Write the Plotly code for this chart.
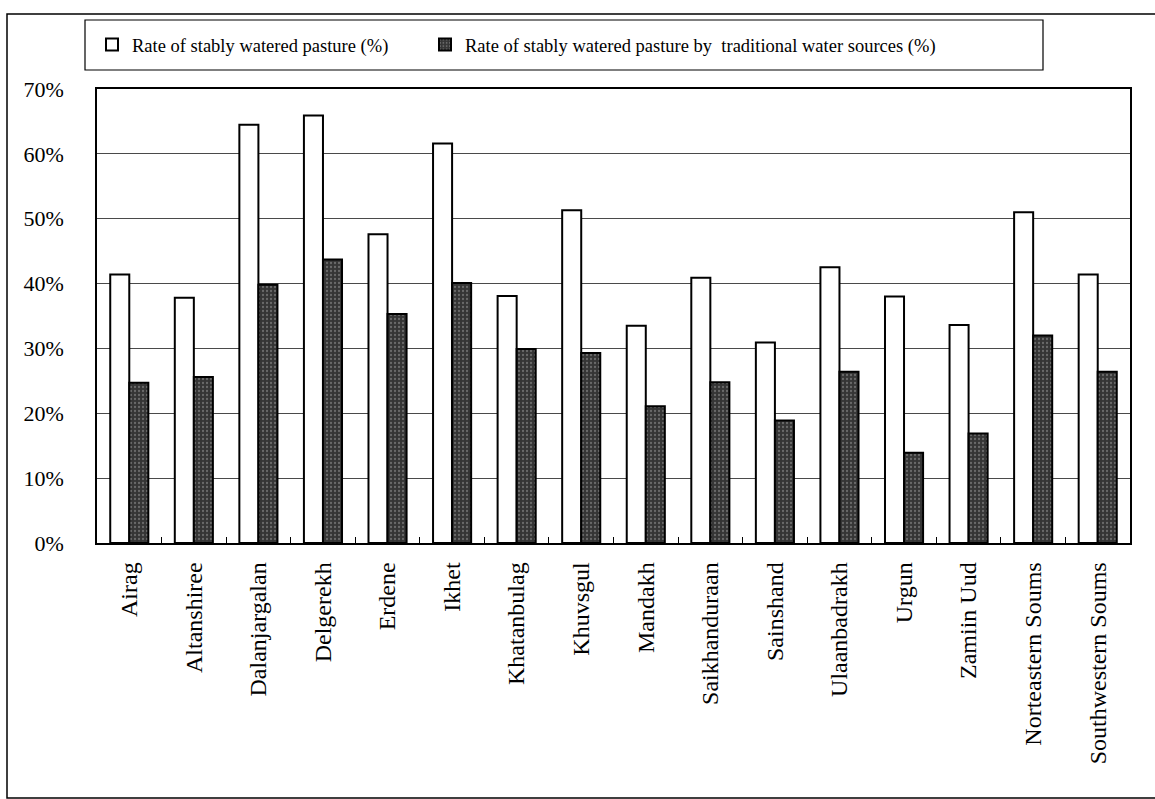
import plotly.graph_objects as go

# Soum names and pasture-watering rates (%)
soums = [
    "Airag", "Altanshiree", "Dalanjargalan", "Delgerekh", "Erdene", "Ikhet",
    "Khatanbulag", "Khuvsgul", "Mandakh", "Saikhanduraan", "Sainshand",
    "Ulaanbadrakh", "Urgun", "Zamiin Uud", "Norteastern Soums", "Southwestern Soums",
]
stably_watered = [41.4, 37.8, 64.5, 65.9, 47.6, 61.6, 38.1, 51.3, 33.5, 40.9,
                  30.9, 42.5, 38.0, 33.6, 51.0, 41.4]
traditional_sources = [24.7, 25.6, 39.8, 43.7, 35.3, 40.1, 29.9, 29.3, 21.1, 24.8,
                       18.9, 26.4, 13.9, 16.9, 32.0, 26.4]
y_ticks = [0, 10, 20, 30, 40, 50, 60, 70]
y_tick_labels = ["0%", "10%", "20%", "30%", "40%", "50%", "60%", "70%"]

name_a = "Rate of stably watered pasture (%)"
name_b = "Rate of stably watered pasture by  traditional water sources (%)"

SERIF = "Liberation Serif"

fig = go.Figure()
fig.add_trace(go.Bar(
    x=soums, y=stably_watered, name=name_a, legend="legend",
    marker=dict(color="white", line=dict(color="black", width=2)),
))
fig.add_trace(go.Bar(
    x=soums, y=traditional_sources, name=name_b, legend="legend2",
    marker=dict(
        color="#353535",
        line=dict(color="black", width=2),
        pattern=dict(shape=".", fgcolor="#a0a0a0", size=4, solidity=0.25,
                     fillmode="overlay"),
    ),
))

# pixel -> paper helpers for the 97..1130 x 89..543 plot box
PL, PR, PT, PB = 97, 1130, 89, 543
def px(x):
    return (x - PL) / (PR - PL)
def py(y):
    return (PB - y) / (PB - PT)

shapes = [
    # legend frame
    dict(type="rect", xref="paper", yref="paper",
         x0=px(85), x1=px(1043), y0=py(70), y1=py(20),
         line=dict(color="black", width=1.2), fillcolor="rgba(0,0,0,0)"),
    # outer chart frame
    dict(type="rect", xref="paper", yref="paper",
         x0=px(7), x1=px(1162), y0=py(798), y1=py(14),
         line=dict(color="black", width=1.5), fillcolor="rgba(0,0,0,0)"),
]

fig.update_layout(
    width=1155, height=799,
    margin=dict(l=PL, r=1155 - PR, t=PT, b=799 - PB, autoexpand=False),
    paper_bgcolor="white", plot_bgcolor="white",
    barmode="group", bargap=0.41, bargroupgap=0,
    font=dict(family=SERIF, color="black"),
    showlegend=True,
    legend=dict(x=px(92), y=py(45), xanchor="left", yanchor="middle",
                orientation="h", bgcolor="rgba(0,0,0,0)",
                font=dict(family=SERIF, size=18.5, color="black")),
    legend2=dict(x=px(425), y=py(45), xanchor="left", yanchor="middle",
                 orientation="h", bgcolor="rgba(0,0,0,0)",
                 font=dict(family=SERIF, size=18.5, color="black")),
    shapes=shapes,
    xaxis=dict(
        tickangle=-90, tickfont=dict(family=SERIF, size=24, color="black"),
        showline=True, linecolor="black", linewidth=1.5, mirror=True,
        ticks="inside", tickson="boundaries", ticklen=6, tickcolor="black",
        ticklabelstandoff=8, showgrid=False,
    ),
    yaxis=dict(
        range=[0, 70], tickmode="array", tickvals=y_ticks, ticktext=y_tick_labels,
        tickfont=dict(family=SERIF, size=22, color="black"),
        showline=True, linecolor="black", linewidth=1.5, mirror=True,
        showgrid=True, gridcolor="#4a4a4a", gridwidth=1,
        ticks="", ticklabelstandoff=27, zeroline=False,
    ),
)

fig.write_html("out.html")
